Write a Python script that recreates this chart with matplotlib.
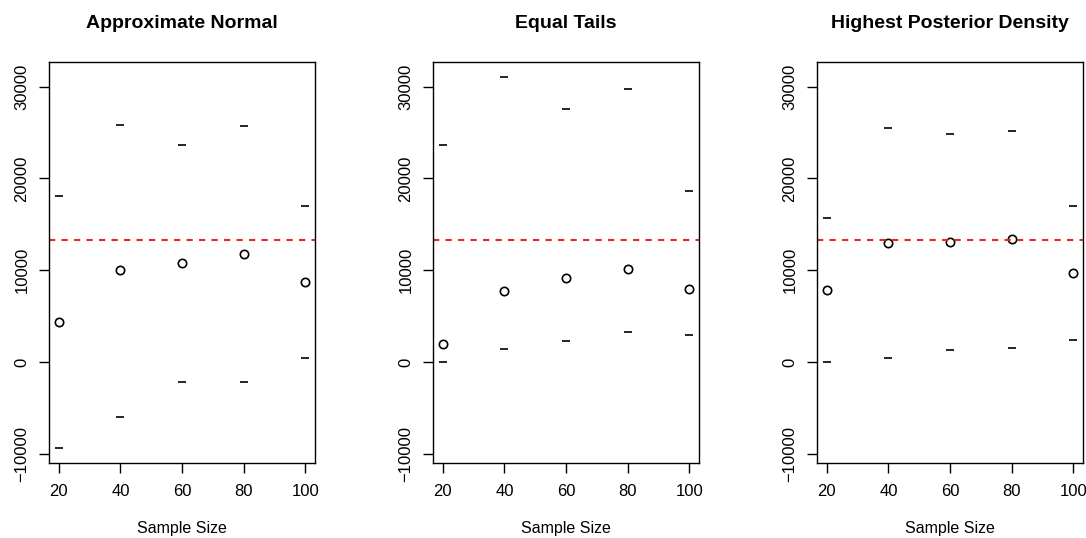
import matplotlib.pyplot as plt

plt.rcParams['font.family'] = ['Liberation Sans', 'DejaVu Sans']

sample_size = [20, 40, 60, 80, 100]
true_value = 13330

titles = ['Approximate Normal', 'Equal Tails', 'Highest Posterior Density']

# point estimates and interval bounds, one list per method
normal_mid = [4360, 9990, 10750, 11800, 8750]
normal_low = [-9330, -5960, -2140, -2140, 470]
normal_high = [18120, 25860, 23680, 25750, 17030]

equal_mid = [1960, 7740, 9150, 10130, 7950]
equal_low = [0, 1450, 2320, 3300, 2980]
equal_high = [23680, 31090, 27600, 29780, 18670]

hpd_mid = [7880, 13000, 13110, 13370, 9660]
hpd_low = [0, 470, 1340, 1560, 2430]
hpd_high = [15730, 25530, 24880, 25210, 16960]

mids = [normal_mid, equal_mid, hpd_mid]
lows = [normal_low, equal_low, hpd_low]
highs = [normal_high, equal_high, hpd_high]

W, H = 1086, 538
fig = plt.figure(figsize=(W / 100, H / 100), dpi=100)

# shared y range like R's default 4% padding
all_vals = normal_low + normal_high + equal_low + equal_high + hpd_low + hpd_high
ymin, ymax = min(all_vals), max(all_vals)
pad_y = (ymax - ymin) * 0.04
pad_x = (max(sample_size) - min(sample_size)) * 0.04

lefts = [49, 433, 817]
for i in range(3):
    ax = fig.add_axes([lefts[i] / W, (H - 462.7) / H, 266 / W, 401 / H])
    ax.plot(sample_size, highs[i], linestyle='none', marker='_', ms=6, mew=1.2, color='black')
    ax.plot(sample_size, lows[i], linestyle='none', marker='_', ms=6, mew=1.2, color='black')
    ax.plot(sample_size, mids[i], linestyle='none', marker='o', ms=6, mew=1.2,
            mfc='none', mec='black')
    hl = ax.axhline(true_value, color='#e8262b', lw=1.5)
    hl.set_dashes([3, 3])

    ax.set_xlim(min(sample_size) - pad_x, max(sample_size) + pad_x)
    ax.set_ylim(ymin - pad_y, ymax + pad_y)
    ax.set_xticks(sample_size)
    ax.set_yticks([-10000, 0, 10000, 20000, 30000])
    ax.set_yticklabels(['\u221210000', '0', '10000', '20000', '30000'],
                       rotation=90, va='center')
    ax.tick_params(axis='both', length=7, width=1, labelsize=12, direction='out')
    ax.tick_params(axis='x', pad=8)
    ax.tick_params(axis='y', pad=7)
    for s in ax.spines.values():
        s.set_linewidth(1)
    ax.set_title(titles[i], fontsize=14, fontweight='bold', pad=24)
    ax.set_xlabel('Sample Size', fontsize=11.5, labelpad=16)

fig.savefig('out.png', dpi=100)
